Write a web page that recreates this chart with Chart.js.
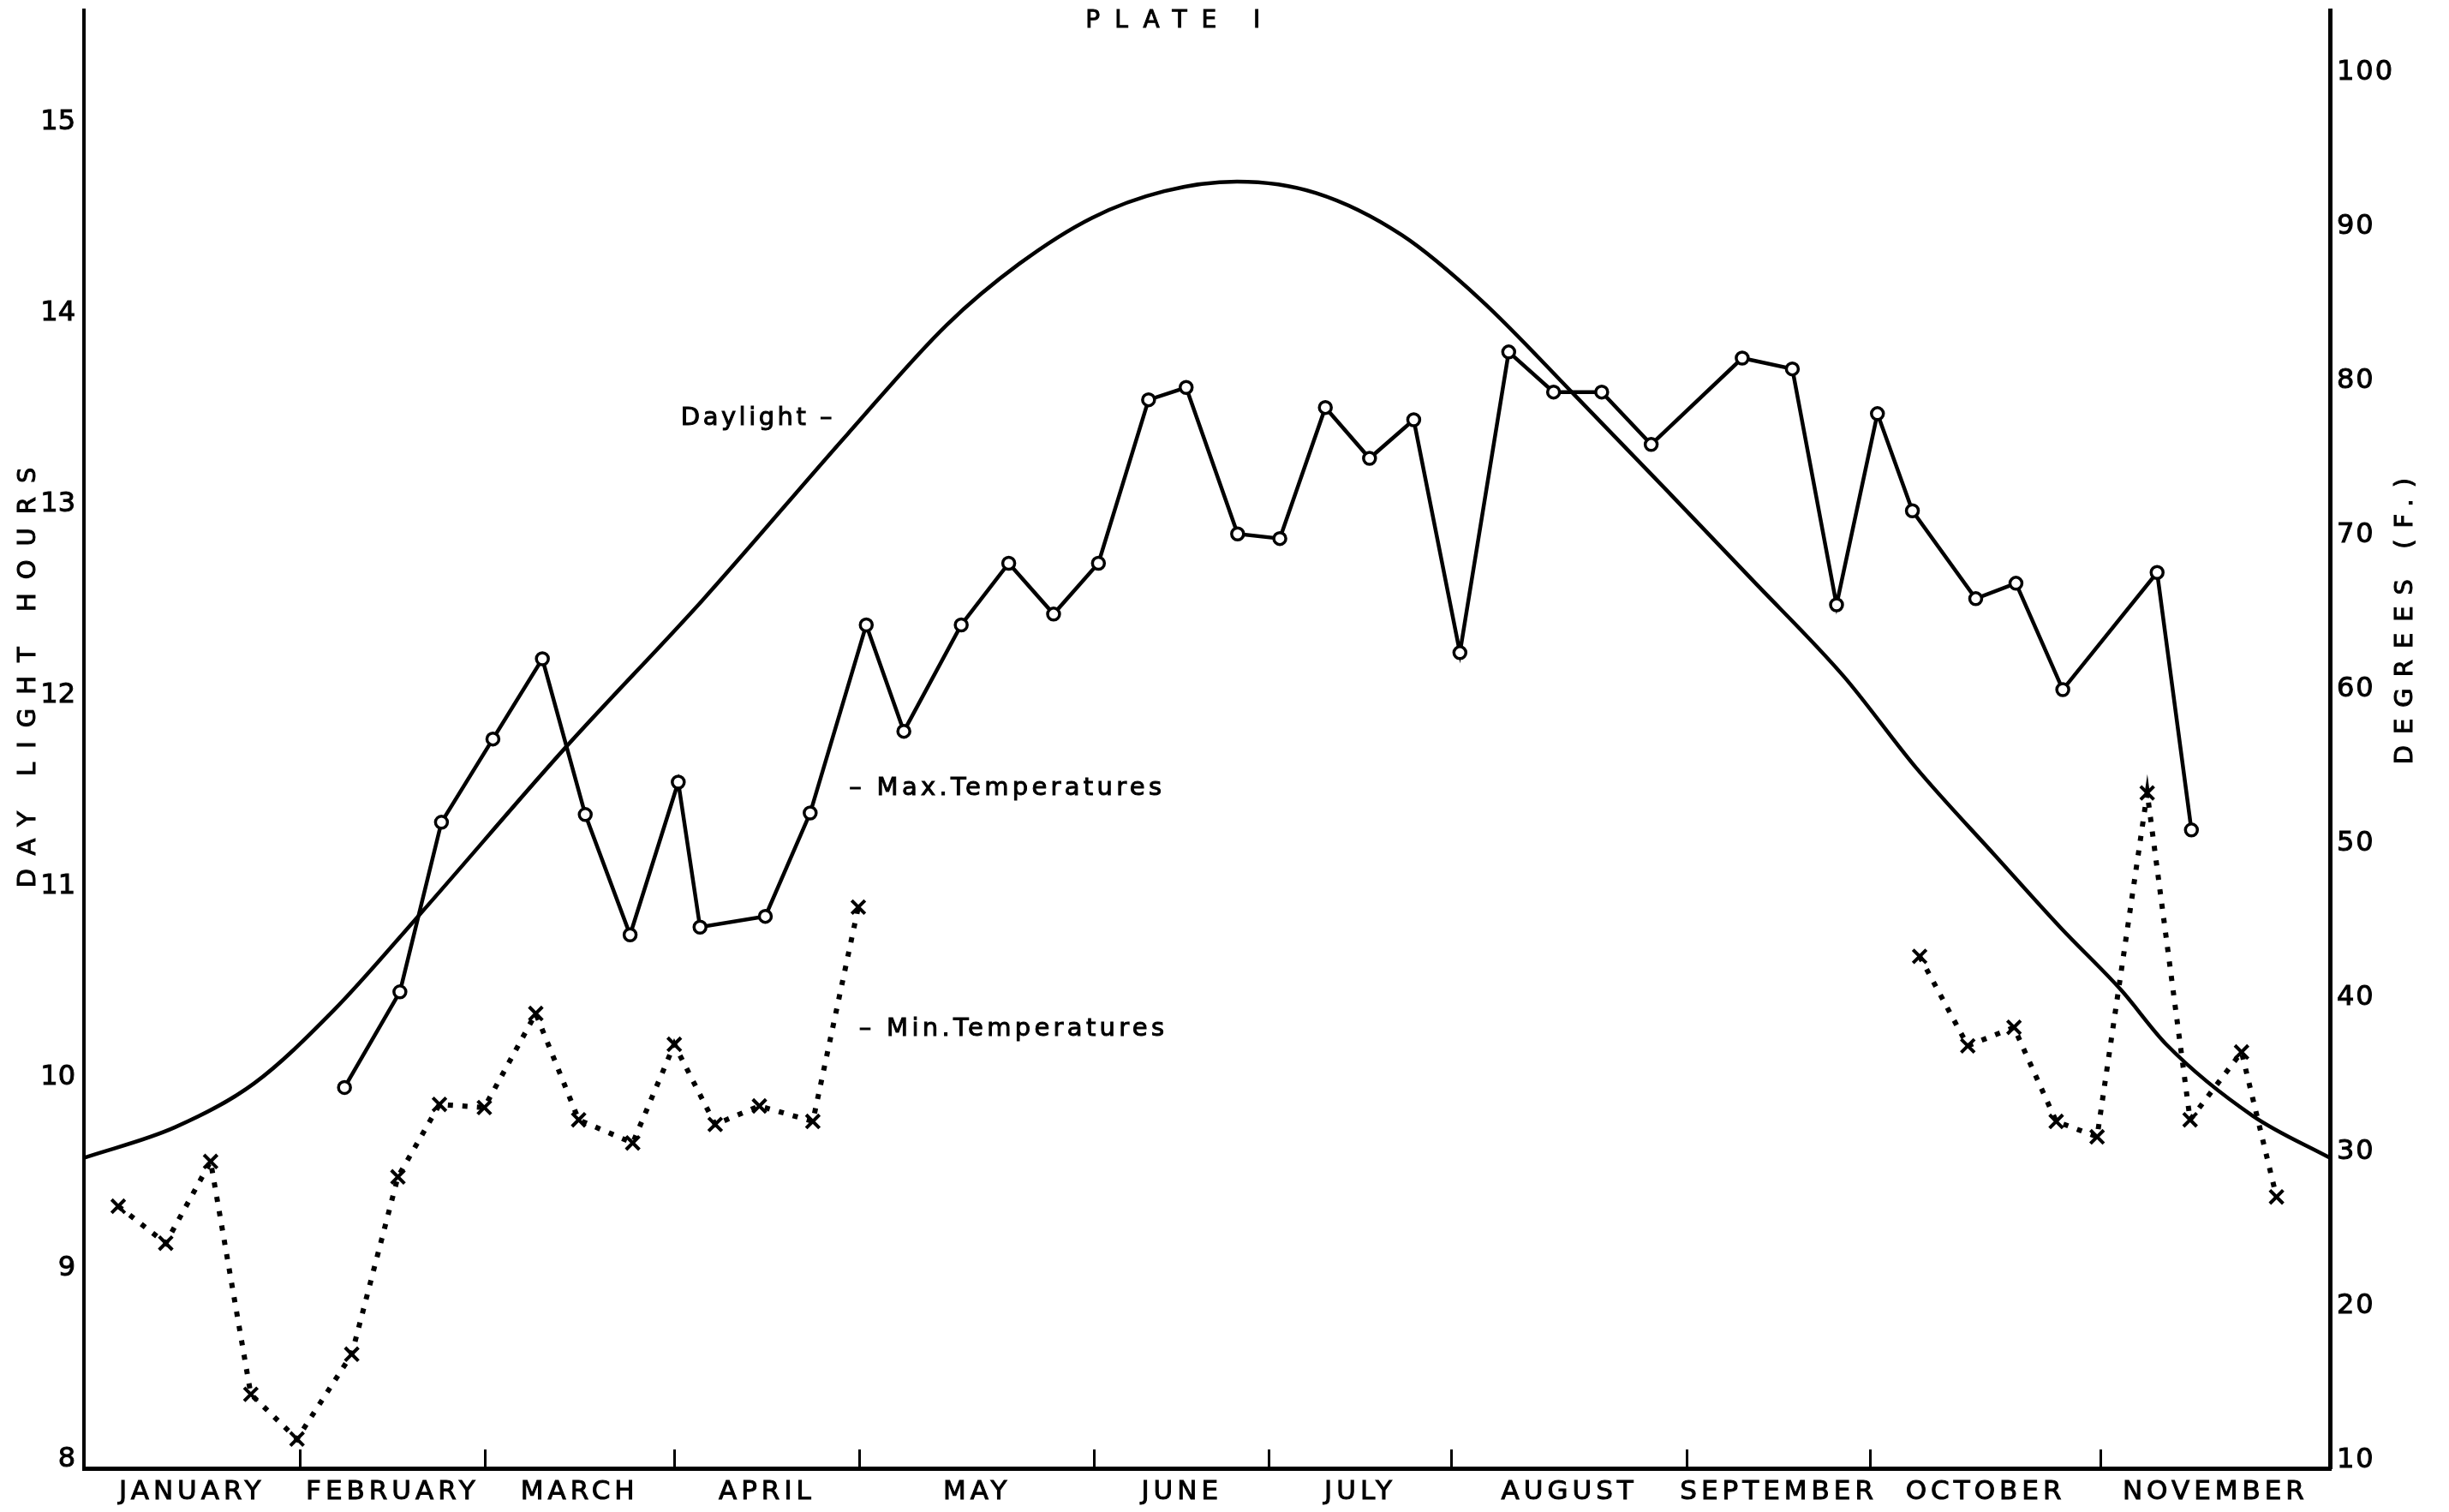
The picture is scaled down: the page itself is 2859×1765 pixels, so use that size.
<!DOCTYPE html>
<html>
<head>
<meta charset="utf-8">
<title>Plate I</title>
<script src="https://cdn.jsdelivr.net/npm/chart.js@4.4.1/dist/chart.umd.min.js"></script>
<style>
  html, body { margin: 0; padding: 0; background: #fff; }
  canvas { display: block; }
</style>
</head>
<body>
<canvas id="plate" width="2859" height="1765"></canvas>
<script>
// Time axis: day of the year as ruled on the plate, month boundaries and names
const monthNames = ['JANUARY', 'FEBRUARY', 'MARCH', 'APRIL', 'MAY', 'JUNE', 'JULY',
                    'AUGUST', 'SEPTEMBER', 'OCTOBER', 'NOVEMBER'];
const monthStarts = [-1.8, 31.0, 59.0, 87.7, 115.8, 151.4, 177.9, 205.5, 241.3, 269.0, 304.0, 338.7];

// Value axes
const hourTicks = [8, 9, 10, 11, 12, 13, 14, 15];
const degreeTicks = [10, 20, 30, 40, 50, 60, 70, 80, 90, 100];

// Hours of daylight through the year
const daylightDays  = [-1.8, 12, 24, 36, 49, 71, 92, 114, 129, 140, 151, 162, 173, 185,
                       198, 210, 224, 238, 251, 265, 276, 288, 298, 307, 314, 327, 338.7];
const daylightHours = [9.58, 9.74, 9.97, 10.35, 10.85, 11.72, 12.50, 13.37, 13.94, 14.26, 14.50, 14.64, 14.69, 14.63,
                       14.41, 14.07, 13.58, 13.08, 12.61, 12.10, 11.62, 11.16, 10.78, 10.46, 10.17, 9.80, 9.58];

// Weekly maximum temperatures (deg F)
const maxDays  = [37.7, 46.1, 52.4, 60.2, 67.7, 74.2, 81.0, 88.3, 91.6, 101.5, 108.3, 116.8, 122.5,
                  131.2, 138.4, 145.2, 152.0, 159.6, 165.3, 173.1, 179.5, 186.4, 193.1, 199.8, 206.8,
                  214.2, 221.0, 228.3, 235.8, 249.6, 257.2, 263.9, 270.1, 275.4, 285.0, 291.1, 298.2,
                  312.5, 317.7];
const maxTemps = [34.2, 40.4, 51.4, 56.8, 62.0, 51.9, 44.1, 54.0, 44.6, 45.3, 52.0, 64.2, 57.3,
                  64.2, 68.2, 64.9, 68.2, 78.8, 79.6, 70.1, 69.8, 78.3, 75.0, 77.5, 62.4,
                  81.9, 79.3, 79.3, 75.9, 81.5, 80.8, 65.5, 77.9, 71.6, 65.9, 66.9, 60.0,
                  67.6, 50.9];

// Weekly minimum temperatures (deg F): winter-spring run, then autumn run
const minDaysSpring  = [3.4, 10.6, 17.4, 23.5, 30.5, 38.8, 45.8, 52.1, 58.9, 66.7, 73.2, 81.4, 87.7, 93.9, 100.6, 108.7, 115.6];
const minTempsSpring = [26.5, 24.1, 29.4, 14.3, 11.4, 16.9, 28.4, 33.1, 32.9, 39.0, 32.1, 30.6, 37.0, 31.8, 33.0, 32.0, 45.9];
const minDaysAutumn  = [276.5, 283.8, 290.8, 297.2, 303.4, 311.0, 317.5, 325.3, 330.6];
const minTempsAutumn = [42.7, 36.9, 38.1, 32.0, 31.0, 53.3, 32.1, 36.5, 27.1];

// ---------------------------------------------------------------------------

const toPoints = (xs, ys) => xs.map((x, i) => ({ x, y: ys[i] }));

// tick list for the time axis: boundary marks (no label) and month-centre labels
const xTicks = [];
for (let i = 1; i < monthStarts.length - 1; i++) {
  xTicks.push({ value: monthStarts[i], label: '', boundary: true });
}
for (let i = 0; i < monthNames.length; i++) {
  xTicks.push({ value: (monthStarts[i] + monthStarts[i + 1]) / 2, label: monthNames[i], boundary: false });
}
xTicks.sort((a, b) => a.value - b.value);

// linear scale whose tick labels can be letter-spaced
const LABEL_SPACING = { x: 5, yH: 0, yT: 2 };
class SpacedLinearScale extends Chart.LinearScale {
  drawLabels(chartArea) {
    const ctx = this.ctx;
    ctx.save();
    ctx.letterSpacing = (LABEL_SPACING[this.id] || 0) + 'px';
    super.drawLabels(chartArea);
    ctx.restore();
  }
}
SpacedLinearScale.id = 'spacedLinear';
SpacedLinearScale.defaults = Chart.LinearScale.defaults;
Chart.register(SpacedLinearScale);

const FONT = 'DejaVu Sans';
Chart.defaults.font.family = FONT;
Chart.defaults.color = '#000';

// fixed axis box sizes; no extra room reserved for half-labels at the ends
const fixBox = (w, h) => s => {
  if (w !== null) s.width = w;
  if (h !== null) s.height = h;
  s.paddingTop = 0; s.paddingBottom = 0; s.paddingLeft = 0; s.paddingRight = 0;
};

// plate heading, axis titles and series captions
const plateText = {
  id: 'plateText',
  afterDraw(chart) {
    const { ctx, chartArea } = chart;
    const { x, yH, yT } = chart.scales;
    const put = (text, px, py, align, spacing, size, vertical) => {
      ctx.save();
      ctx.font = size + 'px "' + FONT + '"';
      ctx.fillStyle = '#000';
      ctx.strokeStyle = '#000';
      ctx.lineWidth = 1;
      ctx.textBaseline = 'middle';
      ctx.textAlign = align;
      ctx.letterSpacing = spacing + 'px';
      ctx.translate(px, py);
      if (vertical) ctx.rotate(-Math.PI / 2);
      ctx.fillText(text, 0, 0);
      ctx.strokeText(text, 0, 0);
      ctx.restore();
    };
    put('PLATE I', x.getPixelForValue(164.4), chartArea.top + 13, 'center', 17, 28, false);
    put('DAY LIGHT HOURS', yH.left + 33, yH.getPixelForValue(12.13), 'center', 16, 29, true);
    put('DEGREES (F.)', yT.right - 51, yT.getPixelForValue(64.8), 'center', 13, 29, true);
    put('Daylight \u2013', x.getPixelForValue(112.1), yH.getPixelForValue(13.45), 'right', 3.5, 29, false);
    put('\u2013 Max.Temperatures', x.getPixelForValue(114.2), yT.getPixelForValue(53.6), 'left', 4.3, 29, false);
    put('\u2013 Min.Temperatures', x.getPixelForValue(115.7), yT.getPixelForValue(38.0), 'left', 4.3, 29, false);
  }
};

const tickFont = { family: FONT, size: 32 };

new Chart(document.getElementById('plate'), {
  type: 'line',
  data: {
    datasets: [
      {
        label: 'Daylight',
        yAxisID: 'yH',
        data: toPoints(daylightDays, daylightHours),
        borderColor: '#000',
        borderWidth: 4.5,
        pointRadius: 0,
        cubicInterpolationMode: 'monotone',
        fill: false
      },
      {
        label: 'Max. Temperatures',
        yAxisID: 'yT',
        data: toPoints(maxDays, maxTemps),
        borderColor: '#000',
        borderWidth: 4.5,
        tension: 0,
        pointRadius: 7,
        pointBorderWidth: 3.5,
        pointBackgroundColor: '#fff',
        pointBorderColor: '#000',
        fill: false
      },
      {
        label: 'Min. Temperatures',
        yAxisID: 'yT',
        data: [...toPoints(minDaysSpring, minTempsSpring), { x: 200, y: null }, ...toPoints(minDaysAutumn, minTempsAutumn)],
        borderColor: '#000',
        borderWidth: 6,
        borderDash: [6, 11],
        borderCapStyle: 'butt',
        spanGaps: false,
        tension: 0,
        pointStyle: 'crossRot',
        pointRadius: 11,
        pointBorderWidth: 4,
        pointBorderColor: '#000',
        fill: false
      }
    ]
  },
  options: {
    responsive: false,
    animation: false,
    devicePixelRatio: 1,
    events: [],
    layout: { padding: { top: 12, left: 0, right: 0, bottom: 0 }, autoPadding: false },
    plugins: { legend: { display: false }, tooltip: { enabled: false }, title: { display: false } },
    scales: {
      x: {
        type: 'spacedLinear',
        position: 'bottom',
        bounds: 'data',
        min: monthStarts[0],
        max: monthStarts[monthStarts.length - 1],
        afterBuildTicks: s => { s.ticks = xTicks.map(t => ({ value: t.value })); },
        afterFit: fixBox(null, 51),
        grid: {
          drawOnChartArea: false,
          drawTicks: true,
          tickLength: -22,
          lineWidth: 3,
          color: c => (xTicks[c.index] && xTicks[c.index].boundary) ? '#000' : 'rgba(0,0,0,0)'
        },
        border: { display: true, color: '#000', width: 5 },
        ticks: {
          autoSkip: false, maxRotation: 0, minRotation: 0, padding: 31,
          font: { family: FONT, size: 31 },
          textStrokeColor: '#000', textStrokeWidth: 1,
          callback: (v, i) => (xTicks[i] ? xTicks[i].label : '')
        }
      },
      yH: {
        type: 'spacedLinear',
        position: 'left',
        bounds: 'data',
        min: 7.955,
        max: 15.587,
        afterBuildTicks: s => { s.ticks = hourTicks.map(v => ({ value: v })); },
        afterFit: fixBox(98, null),
        grid: { display: false, drawTicks: false },
        border: { display: true, color: '#000', width: 4 },
        ticks: { padding: 10, font: tickFont, textStrokeColor: '#000', textStrokeWidth: 1, callback: v => String(v) }
      },
      yT: {
        type: 'spacedLinear',
        position: 'right',
        bounds: 'data',
        min: 9.5,
        max: 104.06,
        afterBuildTicks: s => { s.ticks = degreeTicks.map(v => ({ value: v })); },
        afterFit: fixBox(139, null),
        grid: { display: false, drawTicks: false },
        border: { display: true, color: '#000', width: 5 },
        ticks: { padding: 8, font: tickFont, textStrokeColor: '#000', textStrokeWidth: 1, callback: v => String(v) }
      }
    }
  },
  plugins: [plateText]
});
</script>
</body>
</html>
